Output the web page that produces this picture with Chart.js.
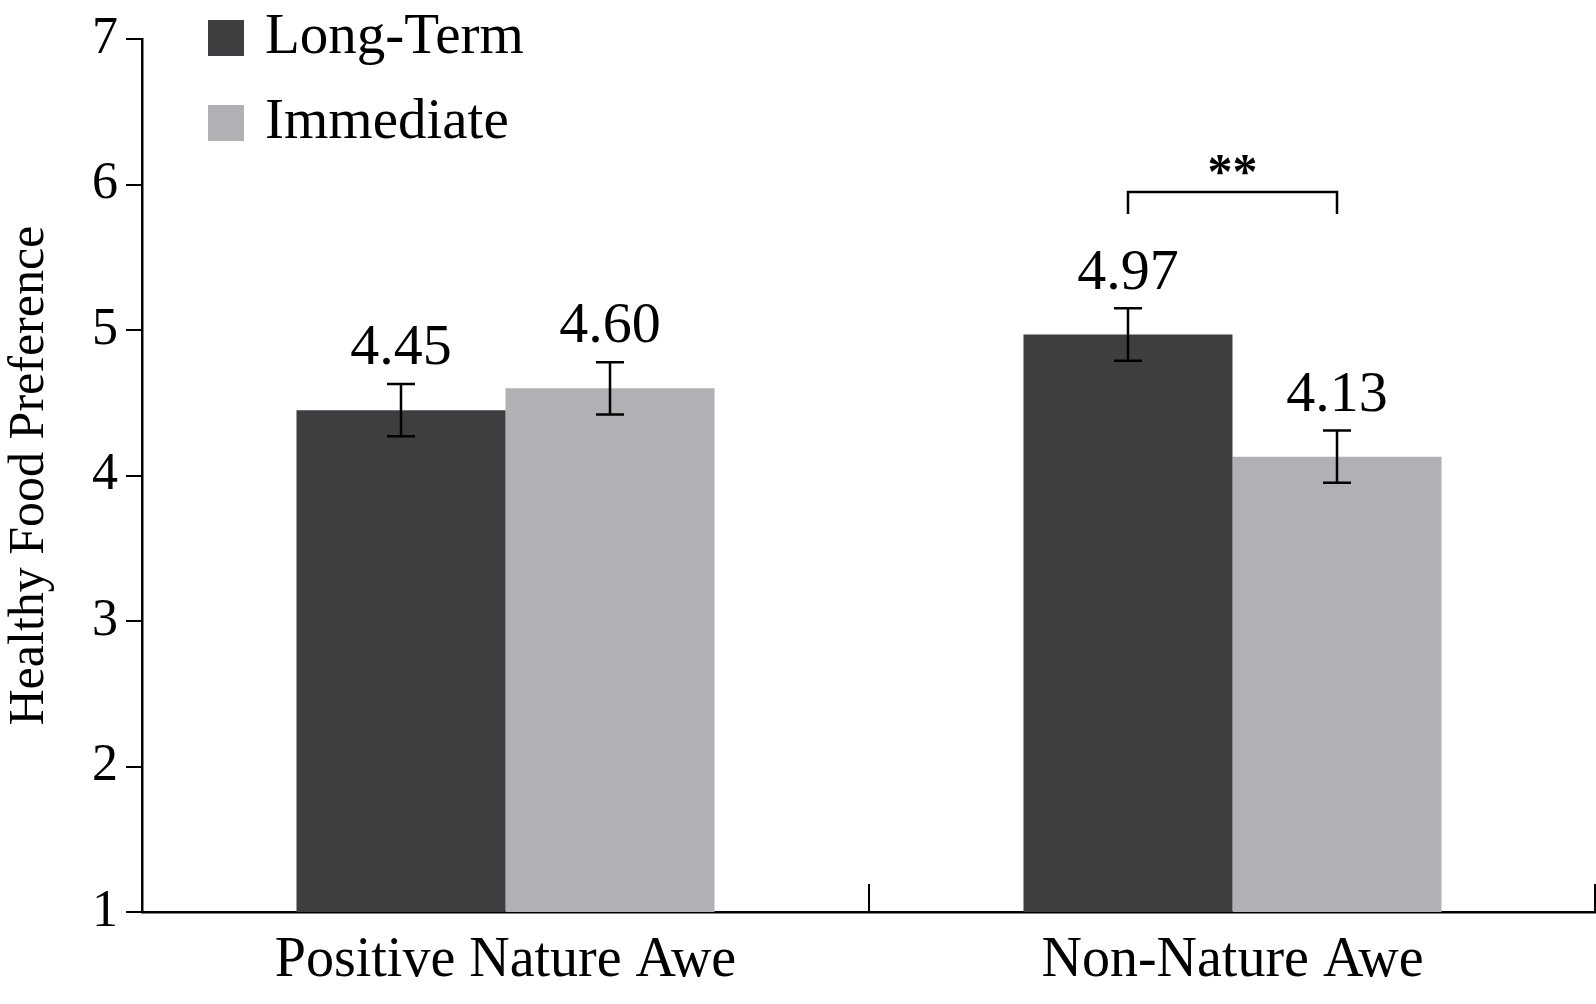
<!DOCTYPE html>
<html><head><meta charset="utf-8">
<script src="https://cdn.jsdelivr.net/npm/chart.js@4"></script>
<style>html,body{margin:0;padding:0;background:#fff}#w{width:1596px;height:1004px}</style>
</head><body><div id="w"><canvas id="c"></canvas></div>
<script>
const categories = ["Positive Nature Awe", "Non-Nature Awe"];
const seriesNames = ["Long-Term", "Immediate"];
const longTerm = [4.45, 4.97];
const immediate = [4.60, 4.13];
const longTermErr = [0.18, 0.18];
const immediateErr = [0.18, 0.18];
const yTicks = [1, 2, 3, 4, 5, 6, 7];
const colors = ["#3e3d40", "#b1b0b4"];
const FONT = "'Liberation Serif', 'Times New Roman', serif";

const extras = {
  id: 'extras',
  afterDatasetsDraw(chart) {
    const ctx = chart.ctx, y = chart.scales.y, x = chart.scales.x, a = chart.chartArea;
    const errs = [longTermErr, immediateErr];
    ctx.save();
    ctx.strokeStyle = '#000'; ctx.fillStyle = '#000'; ctx.lineWidth = 2.5;
    chart.data.datasets.forEach((ds, di) => {
      chart.getDatasetMeta(di).data.forEach((bar, i) => {
        const v = ds.data[i], e = errs[di][i];
        const yt = y.getPixelForValue(v + e), yb = y.getPixelForValue(v - e), cx = bar.x;
        ctx.beginPath();
        ctx.moveTo(cx, yt); ctx.lineTo(cx, yb);
        ctx.moveTo(cx - 14, yt); ctx.lineTo(cx + 14, yt);
        ctx.moveTo(cx - 14, yb); ctx.lineTo(cx + 14, yb);
        ctx.stroke();
        ctx.font = '58px ' + FONT; ctx.textAlign = 'center'; ctx.textBaseline = 'bottom';
        ctx.fillText(v.toFixed(2), cx, yt - 6);
      });
    });
    const b0 = chart.getDatasetMeta(0).data[1].x, b1 = chart.getDatasetMeta(1).data[1].x;
    const by = y.getPixelForValue(5.95);
    ctx.beginPath();
    ctx.moveTo(b0, by + 22); ctx.lineTo(b0, by); ctx.lineTo(b1, by); ctx.lineTo(b1, by + 22);
    ctx.stroke();
    ctx.font = 'bold 50px ' + FONT; ctx.textAlign = 'center'; ctx.textBaseline = 'bottom';
    ctx.fillText('**', (b0 + b1) / 2, by + 8);
    ctx.lineWidth = 2;
    const mid = (x.getPixelForValue(0) + x.getPixelForValue(1)) / 2;
    ctx.beginPath();
    ctx.moveTo(mid, a.bottom); ctx.lineTo(mid, a.bottom - 28);
    ctx.moveTo(a.right - 1, a.bottom); ctx.lineTo(a.right - 1, a.bottom - 28);
    ctx.stroke();
    ctx.font = '57px ' + FONT; ctx.textAlign = 'left'; ctx.textBaseline = 'middle';
    seriesNames.forEach((n, i) => {
      const ly = 38 + i * 85;
      ctx.fillStyle = colors[i]; ctx.fillRect(208, ly - 18, 36, 36);
      ctx.fillStyle = '#000'; ctx.fillText(n, 265, ly);
    });
    ctx.restore();
  }
};

new Chart(document.getElementById('c'), {
  type: 'bar',
  data: {
    labels: categories,
    datasets: [
      { label: seriesNames[0], data: longTerm, backgroundColor: colors[0] },
      { label: seriesNames[1], data: immediate, backgroundColor: colors[1] }
    ]
  },
  options: {
    responsive: true, maintainAspectRatio: false, animation: false,
    layout: { padding: { top: 0, right: 0, left: 0, bottom: 0 } },
    categoryPercentage: 0.575, barPercentage: 1,
    plugins: { legend: { display: false }, tooltip: { enabled: false } },
    scales: {
      x: {
        grid: { display: false },
        border: { color: '#000', width: 2.5 },
        ticks: { color: '#000', font: { family: FONT, size: 56 }, padding: 8 },
        afterFit(s) { s.height = 92; }
      },
      y: {
        min: 1, max: 7,
        afterBuildTicks(s) { s.ticks = yTicks.map(v => ({ value: v })); },
        grid: { drawOnChartArea: false, color: '#000', tickLength: 16, lineWidth: 2 },
        border: { color: '#000', width: 2.5 },
        ticks: { color: '#000', font: { family: FONT, size: 52 }, padding: 8 },
        title: { display: true, text: 'Healthy Food Preference', color: '#000', font: { family: FONT, size: 50 }, padding: 0 },
        afterFit(s) { s.width = 142; }
      }
    }
  },
  plugins: [extras, {
    id: 'area',
    afterLayout(chart) {
      // nudge the chart area to match the reference frame
    }
  }]
});
</script></body></html>
